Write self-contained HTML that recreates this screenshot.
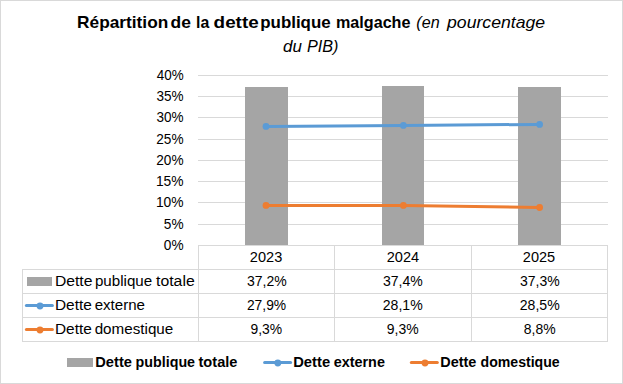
<!DOCTYPE html>
<html><head><meta charset="utf-8">
<style>
html,body{margin:0;padding:0;background:#fff;}
body{width:623px;height:384px;overflow:hidden;position:relative;}
svg{position:absolute;left:0;top:0;display:block;}
text{font-family:"Liberation Sans",sans-serif;fill:#000;}
</style></head>
<body>
<svg width="623" height="384" viewBox="0 0 623 384">
<rect x="0.5" y="0.5" width="622" height="383" fill="#fff" stroke="#d9d9d9" stroke-width="1"/>
<g fill="#d9d9d9">
<rect x="198" y="75" width="410" height="1"/>
<rect x="198" y="96" width="410" height="1"/>
<rect x="198" y="117" width="410" height="1"/>
<rect x="198" y="139" width="410" height="1"/>
<rect x="198" y="160" width="410" height="1"/>
<rect x="198" y="181" width="410" height="1"/>
<rect x="198" y="202" width="410" height="1"/>
<rect x="198" y="224" width="410" height="1"/>
</g>
<g fill="#a5a5a5">
<rect x="245" y="87" width="43" height="158"/>
<rect x="382" y="86" width="42" height="159"/>
<rect x="518" y="87" width="43" height="158"/>
</g>
<g fill="#d9d9d9">
<rect x="198" y="245" width="410" height="1"/>
<rect x="22" y="269" width="586" height="1"/>
<rect x="22" y="293" width="586" height="1"/>
<rect x="22" y="317" width="586" height="1"/>
<rect x="22" y="341" width="586" height="1"/>
<rect x="22" y="269" width="1" height="73"/>
<rect x="198" y="245" width="1" height="97"/>
<rect x="334" y="245" width="1" height="97"/>
<rect x="471" y="245" width="1" height="97"/>
<rect x="607" y="245" width="1" height="97"/>
</g>
<polyline points="266,126.4 403.4,125.4 539.6,124.4" fill="none" stroke="#5b9bd5" stroke-width="3" stroke-linejoin="round"/>
<g fill="#5b9bd5">
<circle cx="266" cy="126.4" r="3.4"/><circle cx="403.4" cy="125.4" r="3.4"/><circle cx="539.6" cy="124.4" r="3.4"/>
</g>
<polyline points="266,205.4 403.4,205.4 539.6,207.5" fill="none" stroke="#ed7d31" stroke-width="3" stroke-linejoin="round"/>
<g fill="#ed7d31">
<circle cx="266" cy="205.4" r="3.4"/><circle cx="403.4" cy="205.4" r="3.4"/><circle cx="539.6" cy="207.5" r="3.4"/>
</g>
<text x="77.09" y="27.90" font-size="16.4" font-weight="bold" textLength="91.18" lengthAdjust="spacingAndGlyphs">Répartition</text>
<text x="170.59" y="27.90" font-size="16.4" font-weight="bold" textLength="20.31" lengthAdjust="spacingAndGlyphs">de</text>
<text x="195.99" y="27.90" font-size="16.4" font-weight="bold" textLength="13.21" lengthAdjust="spacingAndGlyphs">la</text>
<text x="213.63" y="27.90" font-size="16.4" font-weight="bold" textLength="45.02" lengthAdjust="spacingAndGlyphs">dette</text>
<text x="260.29" y="27.90" font-size="16.4" font-weight="bold" textLength="70.39" lengthAdjust="spacingAndGlyphs">publique</text>
<text x="336.04" y="27.90" font-size="16.4" font-weight="bold" textLength="74.41" lengthAdjust="spacingAndGlyphs">malgache</text>
<text x="416.34" y="27.90" font-size="16.4" font-style="italic" textLength="23.29" lengthAdjust="spacingAndGlyphs">(en</text>
<text x="447.04" y="27.90" font-size="16.4" font-style="italic" textLength="98.12" lengthAdjust="spacingAndGlyphs">pourcentage</text>
<text x="283.13" y="51.60" font-size="16.4" font-style="italic" textLength="18.91" lengthAdjust="spacingAndGlyphs">du</text>
<text x="307.00" y="51.60" font-size="16.4" font-style="italic" textLength="31.46" lengthAdjust="spacingAndGlyphs">PIB)</text>
<text x="156.69" y="79.80" font-size="14" textLength="26.89" lengthAdjust="spacingAndGlyphs">40%</text>
<text x="156.48" y="100.80" font-size="14" textLength="27.10" lengthAdjust="spacingAndGlyphs">35%</text>
<text x="156.48" y="121.80" font-size="14" textLength="27.10" lengthAdjust="spacingAndGlyphs">30%</text>
<text x="156.31" y="143.80" font-size="14" textLength="27.27" lengthAdjust="spacingAndGlyphs">25%</text>
<text x="156.31" y="164.80" font-size="14" textLength="27.27" lengthAdjust="spacingAndGlyphs">20%</text>
<text x="155.95" y="185.80" font-size="14" textLength="27.64" lengthAdjust="spacingAndGlyphs">15%</text>
<text x="155.95" y="206.80" font-size="14" textLength="27.64" lengthAdjust="spacingAndGlyphs">10%</text>
<text x="163.85" y="228.80" font-size="14" textLength="19.73" lengthAdjust="spacingAndGlyphs">5%</text>
<text x="163.87" y="249.80" font-size="14" textLength="19.72" lengthAdjust="spacingAndGlyphs">0%</text>
<text x="249.87" y="261.80" font-size="14" textLength="32.37" lengthAdjust="spacingAndGlyphs">2023</text>
<text x="246.97" y="285.80" font-size="14" textLength="39.73" lengthAdjust="spacingAndGlyphs">37,2%</text>
<text x="246.90" y="309.80" font-size="14" textLength="39.29" lengthAdjust="spacingAndGlyphs">27,9%</text>
<text x="250.45" y="333.80" font-size="14" textLength="31.65" lengthAdjust="spacingAndGlyphs">9,3%</text>
<text x="386.67" y="261.80" font-size="14" textLength="32.46" lengthAdjust="spacingAndGlyphs">2024</text>
<text x="382.97" y="285.80" font-size="14" textLength="39.73" lengthAdjust="spacingAndGlyphs">37,4%</text>
<text x="382.79" y="309.80" font-size="14" textLength="39.91" lengthAdjust="spacingAndGlyphs">28,1%</text>
<text x="386.74" y="333.80" font-size="14" textLength="31.85" lengthAdjust="spacingAndGlyphs">9,3%</text>
<text x="522.87" y="261.80" font-size="14" textLength="32.34" lengthAdjust="spacingAndGlyphs">2025</text>
<text x="519.97" y="285.80" font-size="14" textLength="39.73" lengthAdjust="spacingAndGlyphs">37,3%</text>
<text x="519.79" y="309.80" font-size="14" textLength="39.91" lengthAdjust="spacingAndGlyphs">28,5%</text>
<text x="523.79" y="333.80" font-size="14" textLength="31.80" lengthAdjust="spacingAndGlyphs">8,8%</text>
<text x="54.91" y="285.90" font-size="14" textLength="37.48" lengthAdjust="spacingAndGlyphs">Dette</text>
<text x="94.92" y="285.90" font-size="14" textLength="57.25" lengthAdjust="spacingAndGlyphs">publique</text>
<text x="156.06" y="285.90" font-size="14" textLength="38.64" lengthAdjust="spacingAndGlyphs">totale</text>
<text x="54.94" y="310.00" font-size="14" textLength="36.85" lengthAdjust="spacingAndGlyphs">Dette</text>
<text x="94.66" y="310.00" font-size="14" textLength="50.31" lengthAdjust="spacingAndGlyphs">externe</text>
<text x="54.94" y="333.70" font-size="14" textLength="36.85" lengthAdjust="spacingAndGlyphs">Dette</text>
<text x="94.66" y="333.70" font-size="14" textLength="78.61" lengthAdjust="spacingAndGlyphs">domestique</text>
<rect x="27" y="277" width="25" height="9" fill="#a5a5a5"/>
<line x1="26.4" y1="305.4" x2="52.4" y2="305.4" stroke="#5b9bd5" stroke-width="3" stroke-linecap="round"/>
<circle cx="40" cy="306" r="3.4" fill="#5b9bd5"/>
<line x1="26.4" y1="329.4" x2="52.4" y2="329.4" stroke="#ed7d31" stroke-width="3" stroke-linecap="round"/>
<circle cx="40" cy="330" r="3.4" fill="#ed7d31"/>
<rect x="67" y="358" width="26" height="9" fill="#a5a5a5"/>
<text x="95.32" y="367.00" font-size="14.5" font-weight="bold" textLength="36.58" lengthAdjust="spacingAndGlyphs">Dette</text>
<text x="135.56" y="367.00" font-size="14.5" font-weight="bold" textLength="59.53" lengthAdjust="spacingAndGlyphs">publique</text>
<text x="198.52" y="367.00" font-size="14.5" font-weight="bold" textLength="38.88" lengthAdjust="spacingAndGlyphs">totale</text>
<text x="293.21" y="367.00" font-size="14.5" font-weight="bold" textLength="36.89" lengthAdjust="spacingAndGlyphs">Dette</text>
<text x="333.74" y="367.00" font-size="14.5" font-weight="bold" textLength="51.15" lengthAdjust="spacingAndGlyphs">externe</text>
<text x="440.23" y="367.00" font-size="14.5" font-weight="bold" textLength="36.16" lengthAdjust="spacingAndGlyphs">Dette</text>
<text x="480.52" y="367.00" font-size="14.5" font-weight="bold" textLength="79.16" lengthAdjust="spacingAndGlyphs">domestique</text>
<line x1="264.6" y1="362.6" x2="290.6" y2="362.6" stroke="#5b9bd5" stroke-width="3" stroke-linecap="round"/>
<circle cx="277.8" cy="363" r="3.4" fill="#5b9bd5"/>
<line x1="411.3" y1="362.6" x2="437.3" y2="362.6" stroke="#ed7d31" stroke-width="3" stroke-linecap="round"/>
<circle cx="425" cy="363" r="3.4" fill="#ed7d31"/>
</svg>
</body></html>
